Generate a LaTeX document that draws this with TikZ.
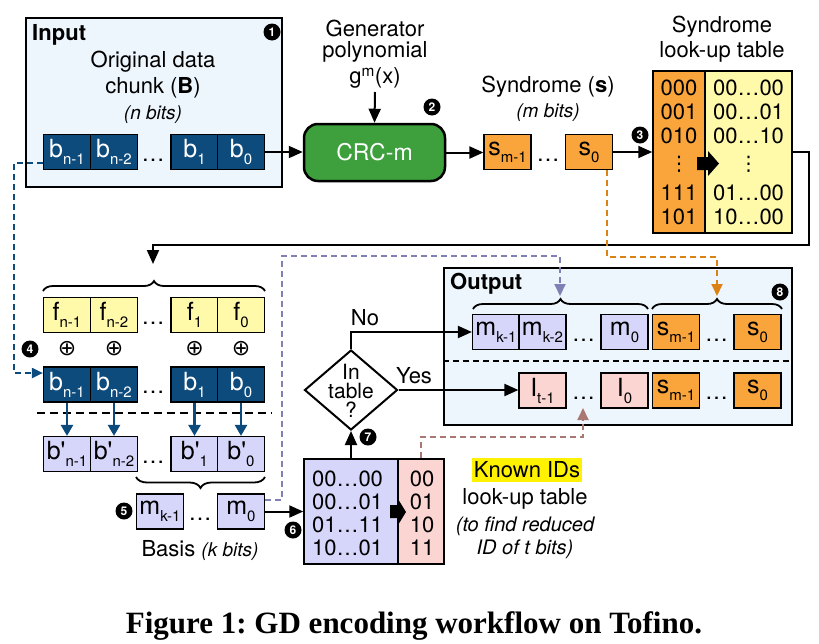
\documentclass[tikz,border=0pt]{standalone}
\usepackage{fontspec}
\setmainfont{TeX Gyre Heros}
\newfontfamily\capfont{Liberation Serif}
\newfontfamily\djv{DejaVu Sans}
\usetikzlibrary{arrows.meta,decorations.pathreplacing,shapes.geometric,calc}
\definecolor{boxbg}{RGB}{238,246,253}
\definecolor{dblue}{RGB}{14,75,125}
\definecolor{crcgreen}{RGB}{61,160,61}
\definecolor{sorange}{RGB}{250,165,60}
\definecolor{lyellow}{RGB}{255,250,170}
\definecolor{lav}{RGB}{214,214,250}
\definecolor{lpink}{RGB}{250,213,210}
\definecolor{dorange}{RGB}{220,130,20}
\definecolor{dpurple}{RGB}{128,128,180}
\definecolor{dbrown}{RGB}{170,120,115}
\newcommand\fsz[1]{\fontsize{#1}{#1}\selectfont}
\newcommand\sbs[1]{\raisebox{-7pt}{\fontsize{15}{15}\selectfont #1}}
\newcommand\prm{\textquotesingle}
\frenchspacing
\tikzset{
  cell/.style={draw=black, line width=1.2pt, minimum width=47pt, minimum height=35pt, inner sep=0pt, font=\fsz{25}},
  bcell/.style={cell, fill=dblue, text=white},
  fcell/.style={cell, fill=lyellow},
  lcell/.style={cell, fill=lav},
  scell/.style={cell, fill=sorange},
  pcell/.style={cell, fill=lpink},
  dotn/.style={font=\fsz{23}, inner sep=0pt},
  arr/.style={line width=2pt, -{Triangle[length=14pt,width=12pt]}},
  barr/.style={line width=2.5pt, draw=dblue, -{Triangle[length=11pt,width=12pt]}},
  badge/.style={circle, fill=black, text=white, inner sep=0pt, minimum size=17pt, font=\fsz{12}\bfseries},
  lbl/.style={font=\fsz{22}, inner sep=0pt, align=center},
  ilbl/.style={font=\fsz{19}\itshape, inner sep=0pt, align=center},
  brc/.style={decorate, decoration={brace, amplitude=10pt}, line width=1.8pt},
  tbl/.style={draw=black, line width=1.5pt, inner sep=0pt},
  ttxt/.style={font=\fsz{22}, inner sep=0pt},
  vdt/.style={font=\djv\fsz{20}, inner sep=0pt},
  xor/.style={font=\djv\fsz{22}, inner sep=0pt},
  dsh/.style={line width=2pt, dash pattern=on 6pt off 4pt},
}
\begin{document}
\begin{tikzpicture}[x=1pt,y=-1pt]
\useasboundingbox (0,0) rectangle (819,643);
% ---------------- Input box
\node[draw=black, line width=1.2pt, fill=boxbg, minimum width=256pt, minimum height=169pt, inner sep=0pt] (inbox) at (154,102.5) {};
\node[font=\fsz{22}\bfseries, inner sep=0pt, anchor=west] (intitle) at (32,35) {Input};
\node[badge] (c1) at (272,32) {1};
\node[lbl] (orig1) at (153,62) {Original data};
\node[lbl] (orig2) at (153,88) {chunk (\textbf{B})};
\node[ilbl] (nbits) at (153,115) {(n bits)};
\node[bcell] (ib1) at (67,152) {b\sbs{n-1}};
\node[bcell] (ib2) at (114,152) {b\sbs{n-2}};
\node[dotn] (idots) at (153,160) {\dots};
\node[bcell] (ib3) at (194.5,152) {b\sbs{1}};
\node[bcell] (ib4) at (241,152) {b\sbs{0}};
% ---------------- CRC
\node[lbl] (gen1) at (375,28) {Generator};
\node[lbl] (gen2) at (375,52) {polynomial};
\node[lbl] (gen3) at (375,78) {g\textsuperscript{m}(x)};
\node[draw=black, line width=2.5pt, rounded corners=14pt, fill=crcgreen, minimum width=141pt, minimum height=57pt, text=white, font=\fsz{23}] (crc) at (374.5,152.5) {CRC-m};
\node[badge] (c2) at (432,107) {2};
\draw[arr] (gen3.south |- 0,92) -- (crc.north);
\draw[arr] (ib4.east) -- (ib4.east -| crc.west);
% ---------------- Syndrome
\node[lbl] (syn1) at (548,87) {Syndrome (\textbf{s})};
\node[ilbl] (mbits) at (548,113) {(m bits)};
\node[scell] (s1) at (507.5,152) {s\sbs{m-1}};
\node[dotn] (sdots) at (548,160) {\dots};
\node[scell] (s0) at (589,152) {s\sbs{0}};
\draw[arr] (crc.east) -- (crc.east -| s1.west);
% ---------------- Syndrome table
\node[lbl] (st1) at (722,27) {Syndrome};
\node[lbl] (st2) at (722,52) {look-up table};
\node[tbl, fill=sorange, minimum width=52pt, minimum height=162pt] (stl) at (679,152) {};
\node[tbl, fill=lyellow, minimum width=87pt, minimum height=162pt] (str) at (748.5,152) {};
\node[badge] (c3) at (640,135) {3};
\draw[arr] (s0.east) -- (s0.east -| stl.west);
\node[ttxt] (r1a) at (679,88) {000};
\node[ttxt] (r2a) at (679,112) {001};
\node[ttxt] (r3a) at (679,136) {010};
\node[vdt] (r4a) at (679,164) {⋮};
\node[ttxt] (r5a) at (679,193) {111};
\node[ttxt] (r6a) at (679,217) {101};
\node[ttxt] (r1b) at (748.5,88) {00…00};
\node[ttxt] (r2b) at (748.5,112) {00…01};
\node[ttxt] (r3b) at (748.5,136) {00…10};
\node[vdt] (r4b) at (748.5,164) {⋮};
\node[ttxt] (r5b) at (748.5,193) {01…00};
\node[ttxt] (r6b) at (748.5,217) {10…00};
\fill[black] (697,157) -- (708,157) -- (708,151) -- (719,163.5) -- (708,176) -- (708,170) -- (697,170) -- cycle;
% ---------------- f row
\node[fcell] (f1) at (67,315) {f\sbs{n-1}};
\node[fcell] (f2) at (114,315) {f\sbs{n-2}};
\node[dotn] (fdots) at (153,323) {\dots};
\node[fcell] (f3) at (194.5,315) {f\sbs{1}};
\node[fcell] (f4) at (241,315) {f\sbs{0}};
\draw[brc] (43,291) -- (265,291);
\coordinate (tr) at (809,152);
\draw[arr] (str.east |- tr) -- (tr) -- (809,245) -- (153,245) -- (153,264);
\node[xor] (x1) at (67,349) {⊕};
\node[xor] (x2) at (114,349) {⊕};
\node[xor] (x3) at (194.5,349) {⊕};
\node[xor] (x4) at (241,349) {⊕};
\node[badge] (c4) at (30,349) {4};
% ---------------- b row 2
\node[bcell] (b1) at (67,384.5) {b\sbs{n-1}};
\node[bcell] (b2) at (114,384.5) {b\sbs{n-2}};
\node[dotn] (bdots) at (153,392) {\dots};
\node[bcell] (b3) at (194.5,384.5) {b\sbs{1}};
\node[bcell] (b4) at (241,384.5) {b\sbs{0}};
\coordinate (bl1) at (14,163);
\coordinate (bl2) at (14,373);
\draw[dsh, draw=dblue, -{Triangle[length=11pt,width=10pt]}] (ib1.west |- bl1) -- (bl1) -- (bl2) -- (b1.west |- bl2);
\draw[line width=2pt, dash pattern=on 8pt off 5pt] (37,413) -- (272,413);
% ---------------- b' row
\node[lcell] (p1) at (67,454) {b\prm\sbs{n-1}};
\node[lcell] (p2) at (114,454) {b\prm\sbs{n-2}};
\node[dotn] (pdots) at (153,462) {\dots};
\node[lcell] (p3) at (194.5,454) {b\prm\sbs{1}};
\node[lcell] (p4) at (241,454) {b\prm\sbs{0}};
\draw[barr] (b1.south) -- (p1.north);
\draw[barr] (b2.south) -- (p2.north);
\draw[barr] (b3.south) -- (p3.north);
\draw[barr] (b4.south) -- (p4.north);
\draw[brc, decoration={brace, mirror, amplitude=11pt}] (136,477) -- (265,477);
% ---------------- basis
\node[lcell] (mk1) at (160,511.5) {m\sbs{k-1}};
\node[dotn] (mdots) at (200,519) {\dots};
\node[lcell] (m0) at (241,511.5) {m\sbs{0}};
\node[badge] (c5) at (124,511) {5};
\node[lbl] (basis) at (200,550) {Basis {\fsz{19}\itshape(k bits)}};
% ---------------- Known table
\node[tbl, fill=lav, minimum width=94pt, minimum height=105pt] (ktl) at (351,511.5) {};
\node[tbl, fill=lpink, minimum width=46pt, minimum height=105pt] (ktr) at (421,511.5) {};
\draw[arr] (m0.east) -- (ktl.west);
\node[badge] (c6) at (293,530) {6};
\node[ttxt] (k1a) at (347.5,479) {00…00};
\node[ttxt] (k2a) at (347.5,502) {00…01};
\node[ttxt] (k3a) at (347.5,525) {01…11};
\node[ttxt] (k4a) at (347.5,548) {10…01};
\node[ttxt] (k1b) at (422,479) {00};
\node[ttxt] (k2b) at (422,502) {01};
\node[ttxt] (k3b) at (422,525) {10};
\node[ttxt] (k4b) at (422,548) {11};
\fill[black] (390,505) -- (398,505) -- (398,499) -- (406,512) -- (398,525) -- (398,518) -- (390,518) -- cycle;
\node[lbl, fill=yellow, inner xsep=2pt, minimum height=24pt] (kid1) at (527,470) {Known IDs};
\node[lbl] (kid2) at (525,499) {look-up table};
\node[ilbl, font=\fsz{20}\itshape] (kid3) at (525,526) {(to find reduced};
\node[ilbl, font=\fsz{20}\itshape] (kid4) at (525,549) {ID of t bits)};
% ---------------- diamond
\node[draw=black, line width=2pt, diamond, minimum width=93pt, minimum height=80pt, inner sep=0pt] (dia) at (351,390) {};
\node[lbl, align=center, font=\fsz{21}] (diat) at (351,391) {In\\[-2pt]table\\[-2pt]?};
\draw[arr] (ktl.north) -- (dia.south);
\node[badge] (c7) at (368,437) {7};
% ---------------- Output box
\node[draw=black, line width=1.2pt, fill=boxbg, minimum width=348pt, minimum height=157pt, inner sep=0pt] (outbox) at (618,346.5) {};
\node[font=\fsz{22}\bfseries, inner sep=0pt, anchor=west] (outtitle) at (450,284) {Output};
\node[badge] (c8) at (780,292) {8};
\draw[line width=1.2pt, dash pattern=on 6pt off 4pt] (outbox.west |- 0,361) -- (outbox.east |- 0,361);
\node[lcell] (om1) at (496,332) {m\sbs{k-1}};
\node[lcell] (om2) at (542.5,332) {m\sbs{k-2}};
\node[dotn] (omdots) at (583.5,340) {\dots};
\node[lcell] (om0) at (624.5,332) {m\sbs{0}};
\node[scell] (os1) at (676,332) {s\sbs{m-1}};
\node[dotn] (osdots) at (716.5,340) {\dots};
\node[scell] (os0) at (757.5,332) {s\sbs{0}};
\node[pcell] (oi1) at (542.5,390.5) {I\sbs{t-1}};
\node[dotn] (oidots) at (583.5,398) {\dots};
\node[pcell] (oi0) at (624.5,390.5) {I\sbs{0}};
\node[scell] (ot1) at (676,390.5) {s\sbs{m-1}};
\node[dotn] (otdots) at (716.5,398) {\dots};
\node[scell] (ot0) at (757.5,390.5) {s\sbs{0}};
\draw[brc] (473,309) -- (648,309);
\draw[brc] (652,309) -- (782,309);
\draw[arr] (dia.north) |- (om1.west);
\node[lbl] (no) at (365,318) {No};
\draw[arr] (dia.east) -- (dia.east -| oi1.west);
\node[lbl] (yes) at (414,376) {Yes};
% ---------------- dashed connectors
\coordinate (pu1) at (282,500);
\coordinate (pu2) at (282,256);
\coordinate (pu3) at (560,256);
\draw[dsh, draw=dpurple, -{Triangle[length=12pt,width=11pt]}] (m0.east |- pu1) -- (pu1) -- (pu2) -- (pu3) -- (560,296);
\coordinate (or1) at (607,257);
\coordinate (or2) at (717,257);
\draw[dsh, draw=dorange, -{Triangle[length=12pt,width=11pt]}] (s0.south -| or1) -- (or1) -- (or2) -- (717,296);
\coordinate (br1) at (421,437);
\coordinate (br2) at (583,437);
\draw[dsh, draw=dbrown, -{Triangle[length=12pt,width=11pt]}] (ktr.north) -- (br1) -- (br2) -- (583,408);
% ---------------- caption
\node[font=\capfont\bfseries\fsz{31}, inner sep=0pt] (cap) at (414,626) {Figure 1: GD encoding workflow on Tofino.};
\end{tikzpicture}
\end{document}
